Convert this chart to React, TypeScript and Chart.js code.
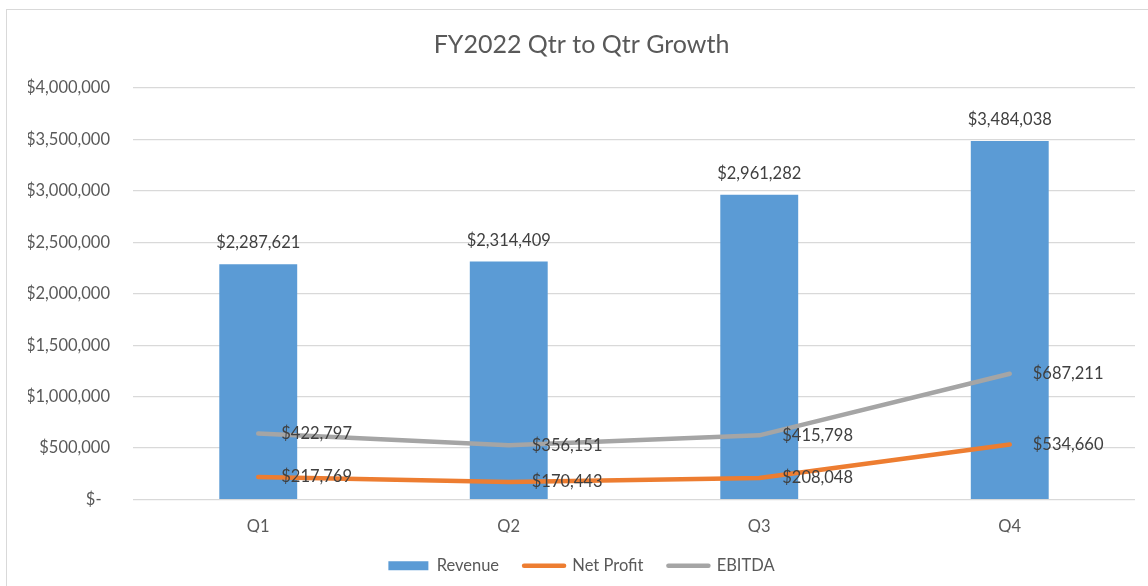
import React, { useEffect, useRef } from "react";
import { Chart, registerables } from "chart.js";

Chart.register(...registerables);

const categories = ["Q1", "Q2", "Q3", "Q4"];
const revenue = [2287621, 2314409, 2961282, 3484038];
const netProfit = [217769, 170443, 208048, 534660];
const ebitda = [422797, 356151, 415798, 687211];
const yTicks = [0, 500000, 1000000, 1500000, 2000000, 2500000, 3000000, 3500000, 4000000];

const FONT = "Lato";
const fmt = (v: number) => "$" + v.toLocaleString("en-US");

const labelPlugin = {
  id: "valueLabels",
  afterDatasetsDraw(chart: any) {
    const ctx = chart.ctx;
    ctx.save();
    ctx.font = `16.5px ${FONT}`;
    ctx.fillStyle = "#404040";
    ctx.textBaseline = "middle";
    chart.data.datasets.forEach((ds: any, di: number) => {
      const meta = chart.getDatasetMeta(di);
      meta.data.forEach((el: any, i: number) => {
        const text = fmt(ds.data[i]);
        if (ds.type === "bar") {
          ctx.textAlign = "center";
          ctx.fillText(text, el.x, el.y - 21);
        } else {
          ctx.textAlign = "left";
          ctx.fillText(text, el.x + 23, el.y);
        }
      });
    });
    ctx.restore();
  },
};

export default function App() {
  const ref = useRef<HTMLCanvasElement>(null);
  useEffect(() => {
    const chart = new Chart(ref.current!, {
      type: "bar",
      data: {
        labels: categories,
        datasets: [
          {
            type: "bar",
            label: "Revenue",
            data: revenue,
            backgroundColor: "#5B9BD5",
            stack: "rev",
            order: 5,
            barPercentage: 0.311,
            categoryPercentage: 1,
          } as any,
          {
            type: "line",
            label: "Net Profit",
            data: netProfit,
            borderColor: "#ED7D31",
            backgroundColor: "#ED7D31",
            borderWidth: 4.5,
            borderCapStyle: "round",
            borderJoinStyle: "round",
            pointRadius: 0,
            stack: "lines",
            order: 0,
          },
          {
            type: "line",
            label: "EBITDA",
            data: ebitda,
            borderColor: "#A5A5A5",
            backgroundColor: "#A5A5A5",
            borderWidth: 4.5,
            borderCapStyle: "round",
            borderJoinStyle: "round",
            pointRadius: 0,
            stack: "lines",
            order: 0,
          },
        ],
      },
      options: {
        animation: false,
        responsive: false,
        layout: { padding: { left: 21, right: 13, top: 0, bottom: 2 } },
        scales: {
          x: {
            grid: { display: false, drawTicks: false },
            border: { display: false },
            ticks: { color: "#595959", font: { family: FONT, size: 16.5 }, padding: 17 },
            afterFit: (s: any) => {
              s.height = 33;
            },
          },
          y: {
            stacked: true,
            min: 0,
            max: 4000000,
            afterBuildTicks: (s: any) => {
              s.ticks = yTicks.map((v) => ({ value: v }));
            },
            grid: { color: "#D9D9D9", lineWidth: 1.2, drawTicks: false },
            border: { display: false },
            ticks: {
              color: "#595959",
              font: { family: FONT, size: 16.5 },
              padding: 23,
              callback: (v: any) => (Number(v) === 0 ? "$-  " : fmt(Number(v))),
            },
            afterFit: (s: any) => {
              s.width = 105;
            },
          },
        },
        plugins: {
          title: {
            display: true,
            text: "FY2022 Qtr to Qtr Growth",
            color: "#595959",
            font: { family: FONT, size: 25, weight: "normal" },
            padding: { top: 20, bottom: 28 },
          },
          legend: {
            position: "bottom",
            labels: {
              color: "#595959",
              font: { family: FONT, size: 16.5 },
              usePointStyle: true,
              pointStyleWidth: 40,
              boxHeight: 9,
              padding: 25,
              sort: (a: any, b: any) => a.datasetIndex - b.datasetIndex,
              generateLabels: (chart: any) =>
                chart.data.datasets.map((ds: any, i: number) => ({
                  text: ds.label,
                  datasetIndex: i,
                  fillStyle: ds.type === "bar" ? ds.backgroundColor : ds.borderColor,
                  strokeStyle: ds.type === "bar" ? ds.backgroundColor : ds.borderColor,
                  lineWidth: ds.type === "bar" ? 0 : 4.5,
                  lineCap: "round",
                  pointStyle: ds.type === "bar" ? "rect" : "line",
                  fontColor: "#595959",
                  hidden: false,
                })),
            },
          },
          tooltip: { enabled: false },
        },
      },
      plugins: [labelPlugin],
    });
    return () => chart.destroy();
  }, []);
  return (
    <div
      style={{
        position: "absolute",
        left: 6,
        top: 9,
        width: 1141,
        height: 576,
        border: "1px solid #D9D9D9",
        background: "#fff",
      }}
    >
      <canvas ref={ref} width={1141} height={576} style={{ display: "block" }} />
    </div>
  );
}
